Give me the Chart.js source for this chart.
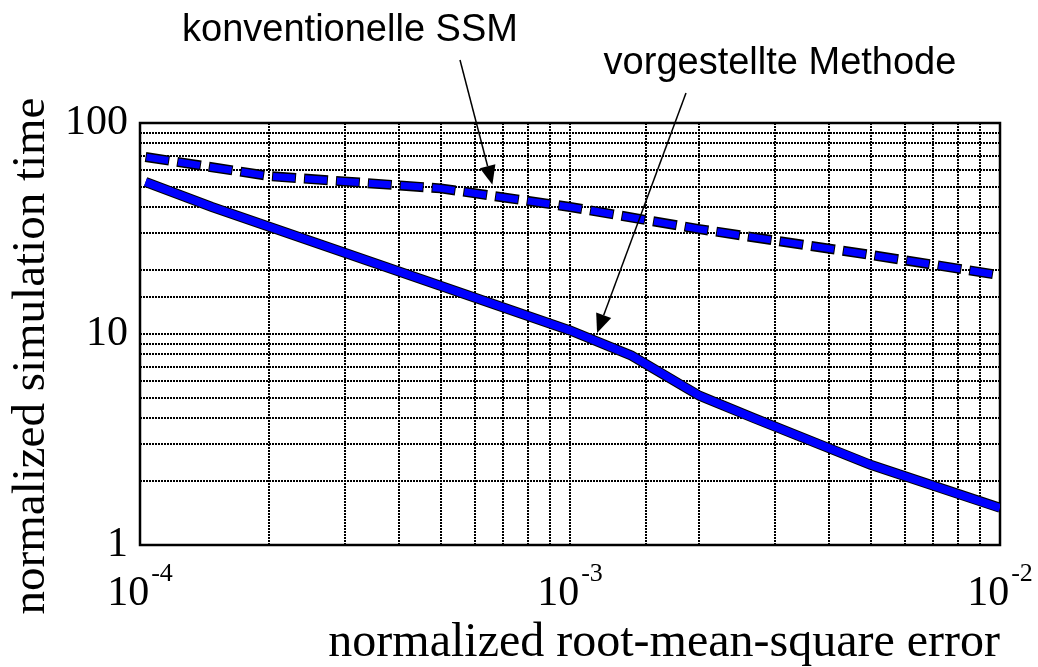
<!DOCTYPE html>
<html>
<head>
<meta charset="utf-8">
<script src="https://cdn.jsdelivr.net/npm/chart.js@4.4.0/dist/chart.umd.min.js"></script>
<style>
  html, body { margin: 0; padding: 0; background: #fff; }
  #wrap { width: 1038px; height: 667px; }
</style>
</head>
<body>
<div id="wrap"><canvas id="timeChart"></canvas></div>
<script>
// Werte (log-log)
const ssmError = [1.03e-4, 2e-4, 5e-4, 1e-3, 2e-3, 5e-3, 1e-2];
const ssmTime = [69, 56, 49, 40, 31.4, 23.7, 19];
const newError = [1.03e-4, 1.47e-4, 1e-3, 1.39e-3, 2e-3, 2.67e-3, 5e-3, 1e-2];
const newTime = [52.5, 40, 10.4, 7.9, 5.1, 4.0, 2.4, 1.5];
const xDecades = [1e-4, 1e-3, 1e-2];
const yDecades = [1, 10, 100];
const labelSSM = 'konventionelle SSM';
const labelNew = 'vorgestellte Methode';
const yTitle = 'normalized simulation time';
const arrowTipSSM = [6.6e-4, 51];
const arrowTipNew = [1.156e-3, 10.1];

const serif = '"Liberation Serif", "Times New Roman", serif';
const sans = '"Liberation Sans", Arial, sans-serif';

function toPoints(xs, ys) {
    return xs.map((x, i) => ({ x: x, y: ys[i] }));
}

function isDecade(v) {
    const l = Math.log10(v);
    return Math.abs(l - Math.round(l)) < 1e-9;
}

// Rahmen um das Diagramm
const framePlugin = {
    id: 'frame',
    beforeDatasetsDraw(chart) {
        const a = chart.chartArea;
        const ctx = chart.ctx;
        ctx.save();
        ctx.strokeStyle = '#000';
        ctx.lineWidth = 2.5;
        ctx.strokeRect(a.left, a.top, a.right - a.left, a.bottom - a.top);
        ctx.restore();
    }
};

// x-Achse: 10 hoch n, y-Achsentitel
const axisTextPlugin = {
    id: 'axisText',
    afterDraw(chart) {
        const ctx = chart.ctx;
        const xs = chart.scales.x;
        ctx.save();
        ctx.fillStyle = '#000';
        ctx.textBaseline = 'alphabetic';
        ctx.textAlign = 'left';
        xDecades.forEach(v => {
            const px = xs.getPixelForValue(v);
            const exp = String(Math.round(Math.log10(v)));
            ctx.font = '42px ' + serif;
            const w1 = ctx.measureText('10').width;
            ctx.font = '26px ' + serif;
            const w2 = ctx.measureText(exp).width;
            const start = px - (w1 + 2 + w2) / 2;
            ctx.font = '42px ' + serif;
            ctx.fillText('10', start, 605);
            ctx.font = '26px ' + serif;
            ctx.fillText(exp, start + w1 + 2, 581);
        });
        ctx.translate(32, 356);
        ctx.rotate(-Math.PI / 2);
        ctx.textAlign = 'center';
        ctx.textBaseline = 'middle';
        ctx.font = '47px ' + serif;
        ctx.fillText(yTitle, 0, 0);
        ctx.restore();
    }
};

function drawArrow(ctx, x0, y0, x1, y1) {
    const ang = Math.atan2(y1 - y0, x1 - x0);
    const len = 19, half = 8;
    const bx = x1 - len * Math.cos(ang), by = y1 - len * Math.sin(ang);
    ctx.beginPath();
    ctx.moveTo(x0, y0);
    ctx.lineTo(bx, by);
    ctx.stroke();
    ctx.beginPath();
    ctx.moveTo(x1, y1);
    ctx.lineTo(bx + half * Math.sin(ang), by - half * Math.cos(ang));
    ctx.lineTo(bx - half * Math.sin(ang), by + half * Math.cos(ang));
    ctx.closePath();
    ctx.fill();
}

// Beschriftungen mit Pfeilen
const notesPlugin = {
    id: 'notes',
    afterDraw(chart) {
        const ctx = chart.ctx;
        const xs = chart.scales.x, ys = chart.scales.y;
        ctx.save();
        ctx.fillStyle = '#000';
        ctx.strokeStyle = '#000';
        ctx.lineWidth = 1.5;
        ctx.font = '38px ' + sans;
        ctx.textAlign = 'center';
        ctx.textBaseline = 'alphabetic';
        ctx.fillText(labelSSM, 350, 41);
        ctx.fillText(labelNew, 780, 74);
        drawArrow(ctx, 460, 60, xs.getPixelForValue(arrowTipSSM[0]), ys.getPixelForValue(arrowTipSSM[1]));
        drawArrow(ctx, 686, 93, xs.getPixelForValue(arrowTipNew[0]), ys.getPixelForValue(arrowTipNew[1]));
        ctx.restore();
    }
};

const ctx = document.getElementById('timeChart').getContext('2d');
new Chart(ctx, {
    type: 'line',
    data: {
        datasets: [
            {
                // gestrichelt, blau
                data: toPoints(ssmError, ssmTime),
                borderColor: '#0000ff',
                borderWidth: 7,
                borderDash: [22, 10],
                borderDashOffset: -1,
                borderCapStyle: 'butt',
                pointRadius: 0,
                tension: 0,
                order: 1
            },
            {
                data: toPoints(newError, newTime),
                borderColor: '#0000ff',
                borderWidth: 8,
                pointRadius: 0,
                tension: 0,
                order: 1
            },
            {
                // schwarze Kontur
                data: toPoints(ssmError, ssmTime),
                borderColor: '#000',
                borderWidth: 10,
                borderDash: [24, 8],
                borderCapStyle: 'butt',
                pointRadius: 0,
                tension: 0,
                order: 2
            },
            {
                data: toPoints(newError, newTime),
                borderColor: '#000',
                borderWidth: 10,
                pointRadius: 0,
                tension: 0,
                order: 2
            }
        ]
    },
    options: {
        responsive: true,
        maintainAspectRatio: false,
        animation: false,
        layout: { padding: { top: 123, right: 38, left: 0, bottom: 0 } },
        plugins: {
            legend: { display: false },
            tooltip: { enabled: false }
        },
        scales: {
            x: {
                type: 'logarithmic',
                min: 1e-4,
                max: 1e-2,
                afterFit(scale) { scale.height = 122; },
                grid: { color: '#000', lineWidth: 2, drawTicks: false },
                border: { display: false, dash: [2, 1] },
                ticks: { display: false, autoSkip: false },
                title: {
                    display: true,
                    text: 'normalized root-mean-square error',
                    align: 'end',
                    color: '#000',
                    font: { family: serif, size: 48, lineHeight: 1 },
                    padding: { top: 0, bottom: 0 }
                }
            },
            y: {
                type: 'logarithmic',
                min: 1,
                max: 100,
                afterFit(scale) { scale.width = 140; },
                grid: { color: '#000', lineWidth: 2, drawTicks: false },
                border: { display: false, dash: [2, 1] },
                ticks: {
                    autoSkip: false,
                    padding: 12,
                    color: '#000',
                    font: { family: serif, size: 42 },
                    callback: v => isDecade(v) ? String(Math.round(v)) : ''
                },
                title: { display: false }
            }
        }
    },
    plugins: [framePlugin, axisTextPlugin, notesPlugin]
});
</script>
</body>
</html>
